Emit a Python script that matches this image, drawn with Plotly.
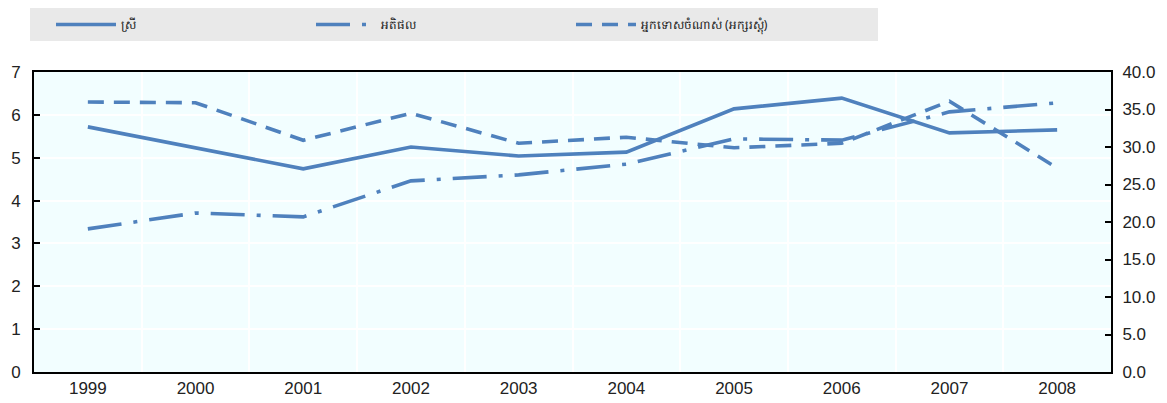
import plotly.graph_objects as go

years = ["1999", "2000", "2001", "2002", "2003", "2004", "2005", "2006", "2007", "2008"]
women = [5.72, 5.23, 4.74, 5.25, 5.04, 5.13, 6.14, 6.39, 5.58, 5.65]
inflation = [3.34, 3.71, 3.62, 4.46, 4.60, 4.85, 5.44, 5.41, 6.07, 6.28]
poor = [36.0, 35.9, 30.9, 34.5, 30.5, 31.3, 29.9, 30.5, 36.1, 27.2]

names = ["ស្រី", "អតិផល", "អ្នកទោសចំណាស់ (អក្សរស្តុំ)"]

color = "#4f81bd"
font_fam = "Liberation Sans Narrow, Arial Narrow, sans-serif"

W, H = 1159, 395

fig = go.Figure()
fig.add_trace(go.Scatter(x=years, y=women, name=names[0], mode="lines",
                         line=dict(color=color, width=3.6)))
fig.add_trace(go.Scatter(x=years, y=inflation, name=names[1], mode="lines",
                         line=dict(color=color, width=3.6, dash="34px,12px,4px,12px")))
fig.add_trace(go.Scatter(x=years, y=poor, name=names[2], mode="lines", yaxis="y2",
                         line=dict(color=color, width=3.6, dash="16px,10px")))

fig.update_layout(
    width=W, height=H,
    margin=dict(l=26, r=56, t=64, b=31),
    paper_bgcolor="white",
    plot_bgcolor="#f2feff",
    font=dict(family=font_fam, size=17, color="#222"),
    showlegend=True,
    legend=dict(orientation="h", x=43/W, y=1 - 2/H, xref="container", yref="container",
                xanchor="left", yanchor="top",
                bgcolor="rgba(0,0,0,0)", entrywidth=185, entrywidthmode="pixels",
                font=dict(size=12, family="Noto Sans, sans-serif", color="#222"),
                itemwidth=60),
    xaxis=dict(type="category", range=[-0.5, 9.5], automargin=False,
               showline=True, linecolor="black", linewidth=2,
               mirror=True, showgrid=True, gridcolor="white", gridwidth=1.5,
               tickson="boundaries", ticks="", ticklen=0,
               tickfont=dict(size=17)),
    yaxis=dict(range=[0, 7], dtick=1, showline=True, linecolor="black", linewidth=2,
               mirror=True, showgrid=True, gridcolor="white", gridwidth=1.5,
               ticks="inside", ticklen=6, tickcolor="black", tickwidth=2,
               ticklabelstandoff=8,
               automargin=False, zeroline=False, tickfont=dict(size=17)),
    yaxis2=dict(range=[0, 40], dtick=5, tickformat=".1f", overlaying="y", side="right",
                showline=True, linecolor="black", linewidth=2, showgrid=False,
                ticks="inside", ticklen=6, tickcolor="black", tickwidth=2,
                ticklabelstandoff=6,
                automargin=False, zeroline=False, tickfont=dict(size=17)),
    shapes=[dict(type="rect", xref="paper", yref="paper",
                 x0=-4/1077, x1=844/1077, y0=(372-41)/300, y1=(372-3)/300,
                 fillcolor="#e9e9e9", line=dict(width=0), layer="below")],
)

fig.write_html("out.html")
